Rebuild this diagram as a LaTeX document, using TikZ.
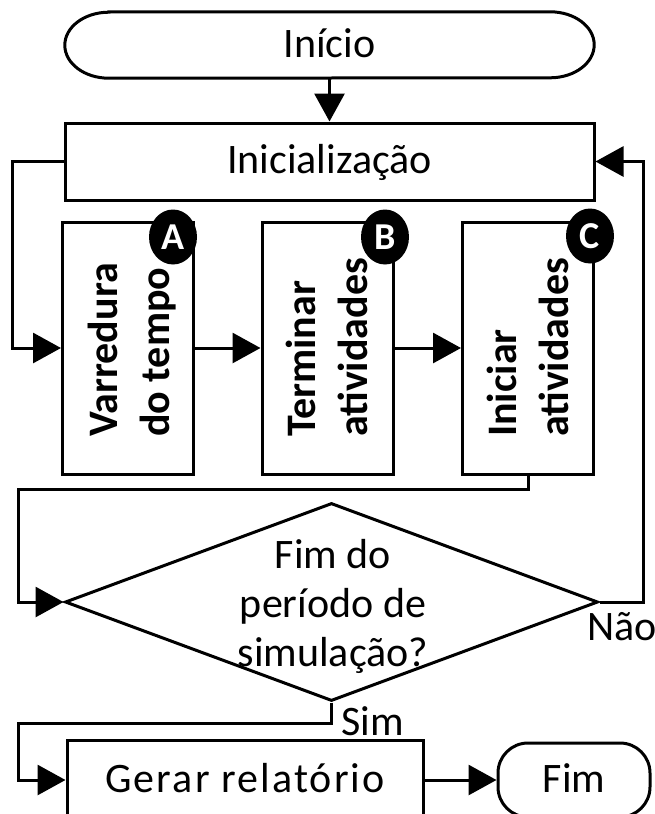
\documentclass[tikz,border=0pt]{standalone}
\usepackage{fontspec}
\setmainfont{Carlito}
\usetikzlibrary{arrows.meta,shapes.geometric}
\begin{document}
\begin{tikzpicture}[x=1pt,y=1pt,
  ln/.style={line width=3pt},
  arr/.style={line width=3pt,-{Triangle[length=28pt,width=30pt]}},
  procbox/.style={draw,line width=3pt,rectangle,inner sep=0pt},
  lbl/.style={font=\fontsize{42}{49}\selectfont, inner sep=0pt},
  capt/.style={lbl, text height=27pt, text depth=3pt},
  vtext/.style={rotate=90, anchor=base west, inner sep=0pt, font=\bfseries\fontsize{42}{52}\selectfont},
  badge/.style={ellipse, fill=black, minimum width=48pt, minimum height=55pt, inner sep=0pt, text=white, font=\bfseries\fontsize{38}{40}\selectfont},
]
\useasboundingbox (0,0) rectangle (655,-814);
\clip (0,0) rectangle (655,-814);

% start terminal
\node[capt, minimum width=529pt, minimum height=66pt] (inicio) at (329.5,-45) {Início};
\draw[ln] ([xshift=44pt]inicio.north west) -- ([xshift=-44pt]inicio.north east)
  arc[start angle=90, end angle=-90, x radius=44pt, y radius=33pt]
  -- ([xshift=44pt]inicio.south west)
  arc[start angle=270, end angle=90, x radius=44pt, y radius=33pt] -- cycle;

% initialisation
\node[procbox, capt, minimum width=529pt, minimum height=77pt] (init) at (329.5,-161.5) {Inicialização};

% three phases
\node[procbox, minimum width=131pt, minimum height=252pt] (boxA) at (128,-348) {};
\node[procbox, minimum width=131pt, minimum height=252pt] (boxB) at (327.5,-348) {};
\node[procbox, minimum width=131pt, minimum height=252pt] (boxC) at (528,-348) {};

\node[vtext] (tA) at (117,-437) {\begin{tabular}[t]{@{}l@{}}Varredura\\do tempo\end{tabular}};
\node[vtext] (tB) at (315,-437) {\begin{tabular}[t]{@{}l@{}}Terminar\\atividades\end{tabular}};
\node[vtext] (tC) at (516,-437) {\begin{tabular}[t]{@{}l@{}}Iniciar\\atividades\end{tabular}};

\node[badge] (bA) at (173,-237) {A};
\node[badge] (bB) at (385,-237) {B};
\node[badge] (bC) at (590,-236) {C};

% decision
\node[diamond, draw, line width=3pt, minimum width=533pt, minimum height=198pt, inner sep=0pt] (dec) at (331.5,-602) {};
\node[lbl, anchor=base] (dectext) at (333,-568) {\begin{tabular}[t]{@{}c@{}}Fim do\\período de\\simulação?\end{tabular}};

% report and end
\node[procbox, capt, minimum width=356pt, minimum height=80pt] (gerar) at (245,-780) {\addfontfeature{LetterSpace=5}Gerar relatório};
\node[procbox, capt, rounded corners=30pt, minimum width=152pt, minimum height=74pt] (fim) at (574,-780) {Fim};

% labels
\node[lbl, anchor=base west] (nao) at (587,-640) {Não};
\node[lbl, anchor=base west] (sim) at (341,-735) {Sim};

% connectors
\draw[arr] (inicio.south) -- (init.north);
\draw[arr] (init.west) -- ++(-51,0) |- (boxA.west);
\draw[arr] (boxA.east) -- (boxB.west);
\draw[arr] (boxB.east) -- (boxC.west);
\draw[arr] (boxC.south) -- ++(0,-14) -- ++(-510,0) |- (dec.west);
\draw[arr] (dec.east) -- ++(44,0) |- (init.east);
\draw[arr] (dec.south) -- ++(0,-21) -- ++(-313.5,0) |- (gerar.west);
\draw[arr] (gerar.east) -- (fim.west);
\end{tikzpicture}
\end{document}
